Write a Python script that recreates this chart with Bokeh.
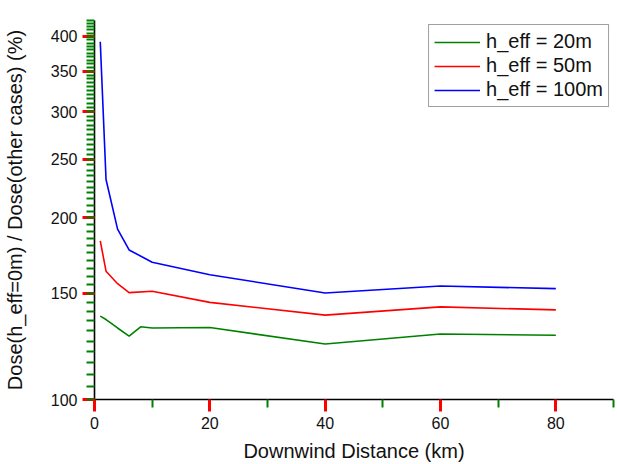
from bokeh.plotting import figure
from bokeh.models import FixedTicker, NumeralTickFormatter, Legend, LegendItem, Range1d
from bokeh.embed import file_html
from bokeh.resources import INLINE

# ---- data ----
x_main = [1, 2, 4, 6, 10, 20, 40, 60, 80]
x_green = [1, 2, 4, 6, 8, 10, 20, 40, 60, 80]
h20 = [137.5, 135.7, 131.4, 127.4, 132.0, 131.4, 131.6, 123.6, 128.4, 127.8]
h50 = [183.3, 163.2, 155.6, 150.4, 151.2, 144.9, 138.0, 142.4, 140.8]
h100 = [392.0, 231.6, 191.6, 177.0, 168.9, 161.0, 150.2, 154.2, 152.7]
labels = ["h_eff = 20m", "h_eff = 50m", "h_eff = 100m"]
y_major = [100, 150, 200, 250, 300, 350, 400]
y_minor = list(range(100, 430, 5))
x_major = [0, 20, 40, 60, 80]
x_minor = [10, 30, 50, 70, 90]

FONT = "Liberation Sans"

p = figure(width=617, height=464, y_axis_type="log",
           x_range=Range1d(0, 90), y_range=Range1d(100, 425),
           output_backend="svg", toolbar_location=None,
           min_border_left=93, min_border_right=4, min_border_top=20, min_border_bottom=62)
p.outline_line_color = None
p.xgrid.visible = False
p.ygrid.visible = False

r1 = p.line(x_green, h20, line_color="#008000", line_width=1.6)
r2 = p.line(x_main, h50, line_color="#FF0000", line_width=1.6)
r3 = p.line(x_main, h100, line_color="#0000FF", line_width=1.6)

p.yaxis.ticker = FixedTicker(ticks=y_major, minor_ticks=y_minor)
p.yaxis.formatter = NumeralTickFormatter(format="0")
p.xaxis.ticker = FixedTicker(ticks=x_major, minor_ticks=x_minor)

p.axis.major_tick_line_color = "red"
p.axis.minor_tick_line_color = "green"
p.axis.major_tick_line_width = 3
p.axis.minor_tick_line_width = 2
p.axis.major_tick_out = 12
p.axis.major_tick_in = 0
p.axis.minor_tick_out = 8
p.axis.minor_tick_in = 0
p.axis.axis_line_width = 1.6
p.axis.major_label_text_font = FONT
p.axis.major_label_text_font_size = "16px"
p.axis.major_label_text_color = "#111111"
p.axis.axis_label_text_font = FONT
p.axis.axis_label_text_font_size = "20px"
p.axis.axis_label_text_font_style = "normal"
p.axis.axis_label_text_color = "#111111"

p.xaxis.axis_label = "Downwind Distance (km)"
p.yaxis.axis_label = "Dose(h_eff=0m) / Dose(other cases) (%)"
p.xaxis.axis_label_standoff = 8
p.yaxis.axis_label_standoff = 22

legend = Legend(items=[LegendItem(label=labels[0], renderers=[r1]),
                       LegendItem(label=labels[1], renderers=[r2]),
                       LegendItem(label=labels[2], renderers=[r3])],
                location="top_right")
legend.label_text_font = FONT
legend.label_text_font_size = "20px"
legend.label_text_color = "#111111"
legend.glyph_width = 46
legend.glyph_height = 20
legend.label_height = 20
legend.label_standoff = 6
legend.spacing = 1
legend.padding = 5
legend.margin = 4
legend.border_line_color = "#404040"
legend.border_line_width = 1
legend.background_fill_alpha = 1
p.add_layout(legend, "center")

open("out.html", "w").write(file_html(p, INLINE))
